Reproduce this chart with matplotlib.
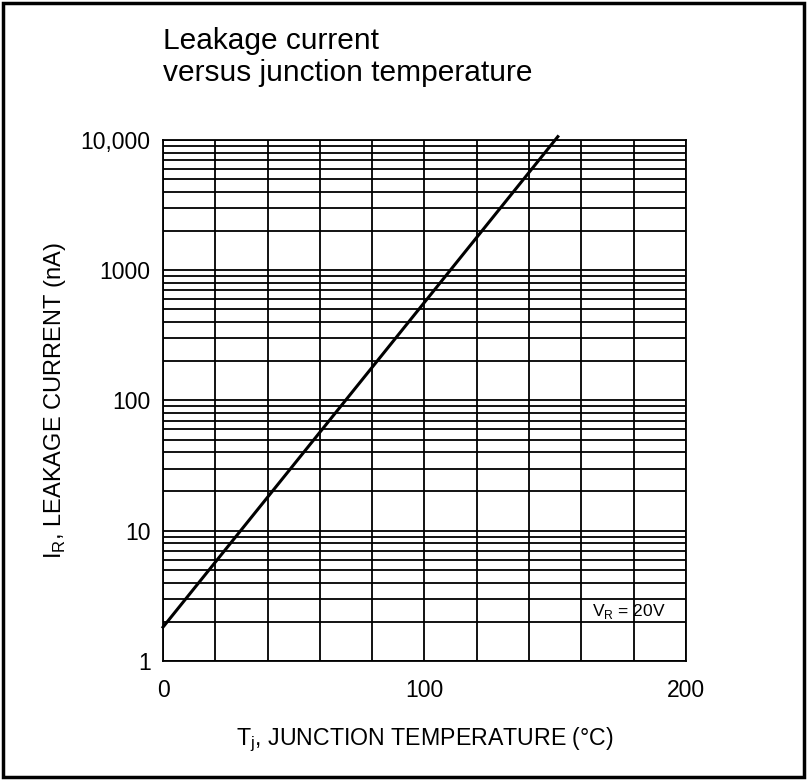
import matplotlib
matplotlib.use("Agg")
import matplotlib.pyplot as plt
from matplotlib.patches import Rectangle
from matplotlib.ticker import LogLocator, NullFormatter

plt.rcParams['font.family'] = ['Liberation Sans', 'DejaVu Sans']

# Data
temps = [0, 151]                 # Tj (°C)
leakage = [1.82, 10600]          # IR (nA)
x_ticks = [0, 100, 200]
y_ticks = [1, 10, 100, 1000, 10000]
y_tick_labels = ["1", "10", "100", "1000", "10,000"]

fig = plt.figure(figsize=(8.07, 7.8), dpi=100)
ax = fig.add_axes([0.202, 0.1526, 0.648, 0.668])

ax.plot(temps, leakage, color='black', lw=2.2, clip_on=False, zorder=3)

ax.set_yscale('log')
ax.set_xlim(0, 200)
ax.set_ylim(1, 10000)

ax.set_xticks(x_ticks)
ax.set_xticks(range(0, 201, 20), minor=True)
ax.set_yticks(y_ticks)
ax.set_yticklabels(y_tick_labels)
ax.yaxis.set_minor_locator(LogLocator(base=10, subs=range(2, 10)))
ax.yaxis.set_minor_formatter(NullFormatter())
ax.xaxis.set_minor_formatter(NullFormatter())

ax.grid(True, which='both', axis='both', color='black', lw=1.3)
ax.tick_params(which='both', length=0, labelsize=16.5)
ax.tick_params(axis='x', pad=13)
ax.tick_params(axis='y', pad=9)
for s in ax.spines.values():
    s.set_color('black')
    s.set_linewidth(1.3)

ax.set_xlabel(r"T$_\mathregular{j}$, JUNCTION TEMPERATURE (°C)", fontsize=16.7, labelpad=17)
ax.set_ylabel(r"I$_\mathregular{R}$, LEAKAGE CURRENT (nA)", fontsize=17, labelpad=9)

ax.text(164, 2.22, r"V$_\mathregular{R}$ = 20V", fontsize=12.5, va='baseline', ha='left')

fig.text(0.202, 0.937, "Leakage current", fontsize=21.5, va='baseline', ha='left')
fig.text(0.202, 0.896, "versus junction temperature", fontsize=21.5, va='baseline', ha='left')

fig.patches.append(Rectangle((0.004, 0.004), 0.992, 0.992, transform=fig.transFigure,
                             fill=False, edgecolor='black', lw=2.5))

fig.savefig("out.png", dpi=100, facecolor='white')
